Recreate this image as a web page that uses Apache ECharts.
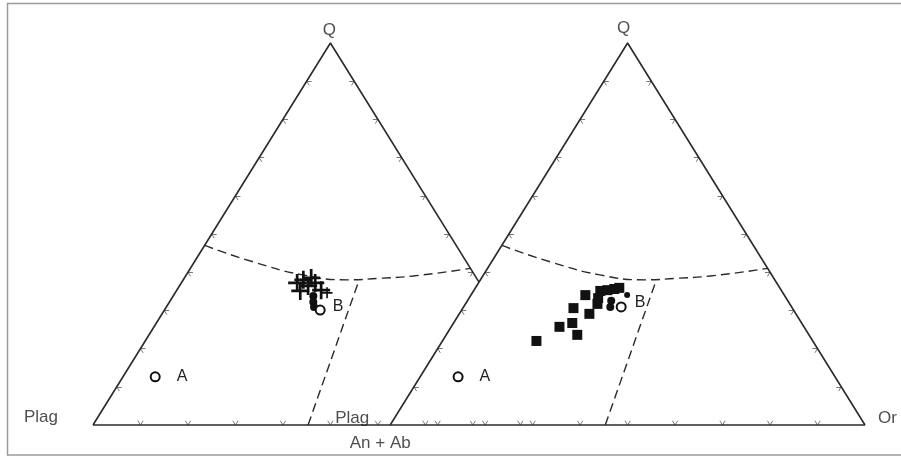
<!DOCTYPE html>
<html><head><meta charset="utf-8">
<script src="https://cdn.jsdelivr.net/npm/echarts/dist/echarts.min.js"></script>
<style>html,body{margin:0;padding:0;background:#fff}#c{width:901px;height:456px}</style>
</head><body><div id="c"></div>
<script>
// Ternary compositions, each row = [Q, Plag, Or] in %
const vertexNames = ['Q', 'Plag', 'Or', 'An + Ab'];
const leftCrosses = [[37.2,38.4,24.4],[38.0,36.7,25.3],[36.4,36.5,27.1],[37.2,34.6,28.2],[35.3,34.3,30.4],[35.1,38.8,26.1],[38.5,34.8,26.7]];
const leftStar = [[34.6,33.4,32.0]];
const leftFilled = [[33.8,36.7,29.5],[32.2,37.5,30.3],[30.9,38.0,31.1]];
const leftOpenA = [[12.6,80.6,6.8]];
const leftOpenB = [[30.1,37.1,32.8]];
const rightSquares = [[22.0,58.2,19.8],[25.7,51.5,22.8],[26.7,48.3,25.0],[23.6,48.8,27.6],[30.6,46.1,23.3],[29.1,43.5,27.4],[34.0,41.9,24.1],[31.7,40.5,27.8],[33.2,39.6,27.2],[35.1,38.2,26.7],[35.3,36.6,28.1],[35.6,35.0,29.4],[35.9,33.8,30.3]];
const rightFilled = [[30.9,38.2,30.9],[32.5,37.2,30.3]];
const rightSmallFilled = [[34.0,33.1,32.9]];
const rightOpenA = [[12.6,79.4,8.0]];
const rightOpenB = [[30.9,35.9,33.2]];
// boundary curve (dashed) and field divider (dashed)
const cotecticCurve = [[47,53,0],[42.7,44.9,12.4],[39.3,36.2,24.5],[38,27.3,34.7],[38.4,20.6,41],[39,13.1,47.9],[41,0,59]];
const dividerLine = [[0,54.7,45.3],[37.8,25.1,37.1]];
const tickFractions = [0.1,0.2,0.3,0.4,0.5,0.6,0.7,0.8,0.9];

const OFF = 297 / 474.5;           // horizontal shift of the right triangle (in triangle widths)
const UX = 772 / (1 + OFF), UY = 382;
function xy(t, off) { const q = t[0] / 100, o = t[2] / 100; return [off + o + q / 2, q]; }
function pts(arr, off) { return arr.map(t => xy(t, off)); }

const edgeStyle = { color: '#2a2a2a', width: 1.6 };
const dashStyle = { color: '#2a2a2a', width: 1.4, type: [9, 5] };
const series = [];
function poly(points, style, smooth) {
  series.push({ type: 'line', data: points, symbol: 'none', smooth: smooth || false, lineStyle: style, silent: true, animation: false, clip: false, z: 2 });
}
// Triangle edges
const yCut = 1 - OFF;
poly([[0, 0], [1 + OFF, 0]], edgeStyle);
poly([[0, 0], [0.5, 1], [1 - 0.5 * yCut, yCut]], edgeStyle);
poly([[OFF, 0], [OFF + 0.5, 1], [OFF + 1, 0]], edgeStyle);
// Dashed lines
poly(pts(cotecticCurve, 0).filter(p => p[0] <= 1 - 0.5 * p[1] + 1e-9), dashStyle, 0.5);
poly(pts(cotecticCurve, OFF), dashStyle, 0.5);
poly(pts(dividerLine, 0), dashStyle);
poly(pts(dividerLine, OFF), dashStyle);

// Ticks (small chevrons pointing inward)
const tickLines = [];
function addTick(p, dirs) {
  dirs.forEach(d => {
    const lp = Math.hypot(d[0] * UX, d[1] * UY), L = 5 / lp;
    tickLines.push({ coords: [p, [p[0] + d[0] * L, p[1] + d[1] * L]] });
  });
}
[0, OFF].forEach((off, idx) => {
  tickFractions.forEach(f => {
    addTick([off + f, 0], [[0.5, 1], [-0.5, 1]]);                 // bottom
    addTick([off + 0.5 * f, f], [[1, 0], [0.5, -1]]);              // left edge
    if (idx === 1 || f > yCut) addTick([off + 1 - 0.5 * f, f], [[-1, 0], [-0.5, -1]]); // right edge
  });
});
series.push({ type: 'lines', coordinateSystem: 'cartesian2d', data: tickLines, lineStyle: { color: '#777', width: 1, opacity: 1 }, silent: true, animation: false, z: 1 });

const plus = 'path://M8.5,0h3v8.5h8.5v3h-8.5v8.5h-3v-8.5h-8.5v-3h8.5z';
function scatter(data, symbol, size, itemStyle, label) {
  series.push({ type: 'scatter', data: data, symbol: symbol, symbolSize: size, itemStyle: Object.assign({ opacity: 1 }, itemStyle), label: label || { show: false }, silent: true, animation: false, clip: false, z: 5 });
}
const blk = { color: '#111' };
const openSt = { color: '#fff', borderColor: '#111', borderWidth: 2 };
const lblFont = { fontFamily: 'Liberation Sans, Arial, sans-serif', fontSize: 16, color: '#222' };
scatter(pts(leftCrosses, 0), plus, 18, blk);
scatter(pts(leftStar, 0), plus, 11, blk);
scatter(pts(leftFilled, 0), 'circle', 8, blk);
scatter(pts(leftOpenB, 0), 'circle', 9, openSt, Object.assign({ show: true, formatter: 'B', position: 'right', distance: 7, offset: [0, -3] }, lblFont));
scatter(pts(leftOpenA, 0), 'circle', 9, openSt, Object.assign({ show: true, formatter: 'A', position: 'right', distance: 16 }, lblFont));
scatter(pts(rightSquares, OFF), 'rect', 10, blk);
scatter(pts(rightFilled, OFF), 'circle', 8, blk);
scatter(pts(rightSmallFilled, OFF), 'circle', 6, blk);
scatter(pts(rightOpenB, OFF), 'circle', 9, openSt, Object.assign({ show: true, formatter: 'B', position: 'right', distance: 8, offset: [0, -4] }, lblFont));
scatter(pts(rightOpenA, OFF), 'circle', 9, openSt, Object.assign({ show: true, formatter: 'A', position: 'right', distance: 16 }, lblFont));

// Vertex labels
const vFont = { fontFamily: 'Liberation Sans, Arial, sans-serif', fontSize: 17, color: '#222' };
function vlabel(p, text, offset, align) {
  series.push({ type: 'scatter', data: [p], symbolSize: 0, silent: true, animation: false, clip: false, z: 6,
    label: Object.assign({ show: true, formatter: text, position: 'inside', offset: offset, align: align || 'center', verticalAlign: 'middle' }, vFont) });
}
vlabel([0.5, 1], vertexNames[0], [-1, -13]);
vlabel([OFF + 0.5, 1], vertexNames[0], [-4, -15]);
vlabel([0, 0], vertexNames[1], [-52, -8]);
vlabel([OFF, 0], vertexNames[1], [-38, -7]);
vlabel([OFF, 0], vertexNames[3], [-10, 18]);
vlabel([OFF + 1, 0], vertexNames[2], [13, -7], 'left');

const chart = echarts.init(document.getElementById('c'), null, { renderer: 'canvas' });
chart.setOption({
  animation: false,
  backgroundColor: '#fff',
  grid: { left: 93, right: 36, top: 43, bottom: 31 },
  xAxis: { type: 'value', min: 0, max: 1 + OFF, show: false },
  yAxis: { type: 'value', min: 0, max: 1, show: false },
  graphic: [{ type: 'rect', shape: { x: 7.5, y: 3.5, width: 900, height: 451.5 }, style: { fill: 'none', stroke: '#9a9a9a', lineWidth: 1.5 }, silent: true, z: -1 }],
  series: series
});
</script></body></html>
